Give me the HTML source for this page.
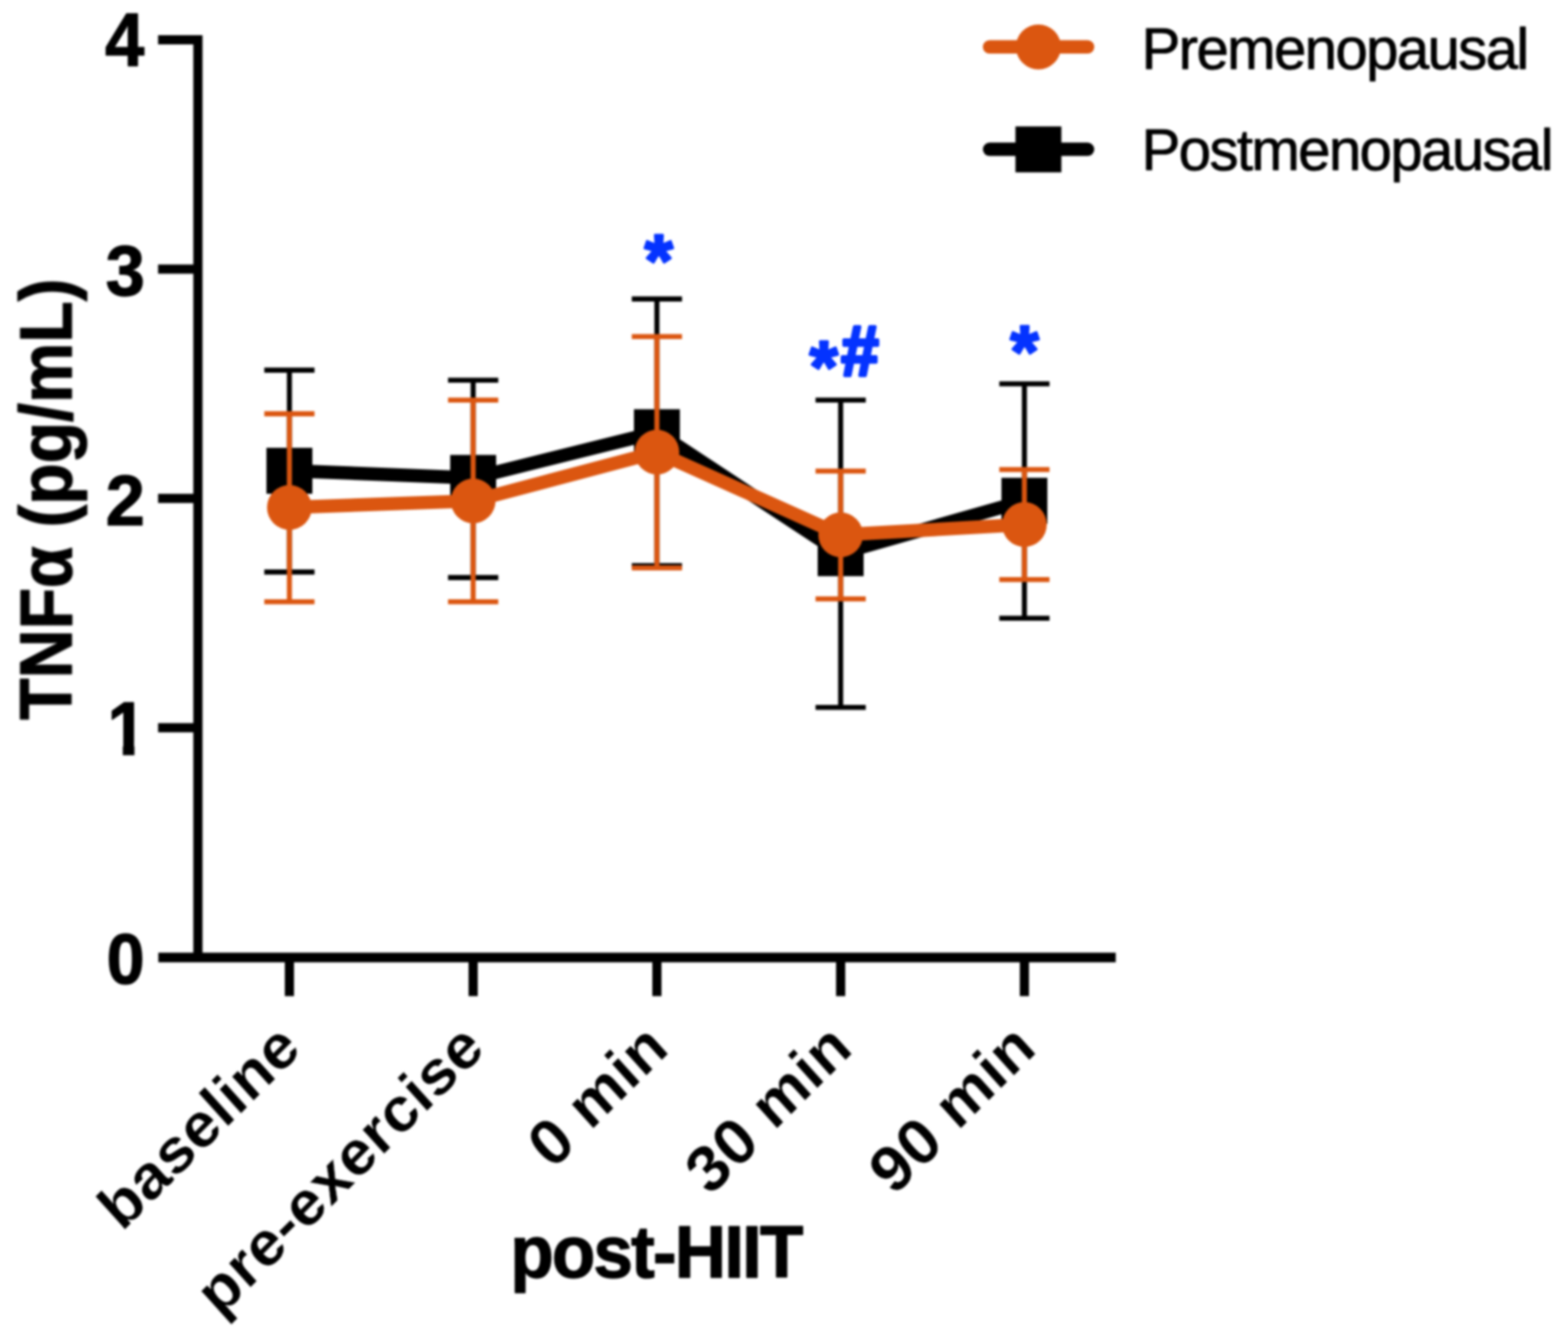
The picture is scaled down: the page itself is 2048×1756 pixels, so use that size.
<!DOCTYPE html>
<html lang="en"><head><meta charset="utf-8"><title>TNFα response to HIIT</title>
<style>html,body{margin:0;padding:0;background:#fff}svg{display:block}text{font-family:"Liberation Sans",Arial,Helvetica,sans-serif}</style></head><body>
<svg width="2048" height="1756" viewBox="0 0 2048 1756">
<rect width="2048" height="1756" fill="#ffffff"/>
<defs><filter id="soft" color-interpolation-filters="sRGB" x="0" y="0" width="2048" height="1756" filterUnits="userSpaceOnUse"><feGaussianBlur stdDeviation="1.6"/></filter></defs>
<g id="chart" filter="url(#soft)">
<g id="axes" fill="#000">
<rect x="252.5" y="46" width="12" height="1211"/>
<rect x="206.8" y="1244.7" width="1250.5" height="12.6"/>
<rect x="206.5" y="46" width="50" height="12"/>
<rect x="206.5" y="345.6" width="50" height="12"/>
<rect x="206.5" y="645.2" width="50" height="12"/>
<rect x="206.5" y="944.8" width="50" height="12"/>
<rect x="372" y="1250" width="12" height="51.5"/>
<rect x="612" y="1250" width="12" height="51.5"/>
<rect x="852" y="1250" width="12" height="51.5"/>
<rect x="1092" y="1250" width="12" height="51.5"/>
<rect x="1332" y="1250" width="12" height="51.5"/>
</g>
<g id="yticks">
<clipPath id="nofoot"><path d="M130 900H180V968H175.6V1000H160.4V968H130Z"/></clipPath>
<text transform="translate(188.5 85.5) scale(0.96 1.02)" font-size="96" font-weight="bold" stroke="#000000" stroke-width="1.5" stroke-linejoin="round" text-anchor="end" letter-spacing="0" fill="#000000">4</text>
<text transform="translate(189.3 385.6) scale(0.96 0.964)" font-size="96" font-weight="bold" stroke="#000000" stroke-width="1.5" stroke-linejoin="round" text-anchor="end" letter-spacing="0" fill="#000000">3</text>
<text transform="translate(189.3 686.0) scale(0.96 0.97)" font-size="96" font-weight="bold" stroke="#000000" stroke-width="1.5" stroke-linejoin="round" text-anchor="end" letter-spacing="0" fill="#000000">2</text>
<g clip-path="url(#nofoot)"><text transform="translate(191.5 986.0) scale(0.96 1.02)" font-size="96" font-weight="bold" stroke="#000000" stroke-width="1.5" stroke-linejoin="round" text-anchor="end" letter-spacing="0" fill="#000000">1</text></g>
<text transform="translate(189.0 1284.8) scale(0.93 0.964)" font-size="96" font-weight="bold" stroke="#000000" stroke-width="1.5" stroke-linejoin="round" text-anchor="end" letter-spacing="0" fill="#000000">0</text>
</g>
<text transform="translate(92.9 940.5) rotate(-90) scale(1.0 1.09)" font-size="88.5" font-weight="bold" stroke="#000000" stroke-width="1.5" stroke-linejoin="round" text-anchor="start" letter-spacing="0.1" fill="#000000">TNFα (pg/mL)</text>
<g id="xticks">
<text transform="translate(396.3 1373.0) rotate(-45) skewX(-3) scale(1.0 0.96)" font-size="83" font-weight="bold" stroke="#fff" stroke-width="0.35" stroke-linejoin="round" text-anchor="end" letter-spacing="0.4" fill="#000000">baseline</text>
<text transform="translate(636.3 1373.0) rotate(-45) skewX(-3) scale(1.0 0.96)" font-size="83" font-weight="bold" stroke="#fff" stroke-width="0.35" stroke-linejoin="round" text-anchor="end" letter-spacing="0.4" fill="#000000">pre-exercise</text>
<text transform="translate(876.3 1373.0) rotate(-45) skewX(-3) scale(1.0 0.96)" font-size="83" font-weight="bold" stroke="#fff" stroke-width="0.35" stroke-linejoin="round" text-anchor="end" letter-spacing="0.4" fill="#000000"><tspan font-size="86" dy="1.5">0</tspan><tspan dy="-1.5"> min</tspan></text>
<text transform="translate(1116.3 1373.0) rotate(-45) skewX(-3) scale(1.0 0.96)" font-size="83" font-weight="bold" stroke="#fff" stroke-width="0.35" stroke-linejoin="round" text-anchor="end" letter-spacing="0.4" fill="#000000"><tspan font-size="86" dy="1.5">30</tspan><tspan dy="-1.5"> min</tspan></text>
<text transform="translate(1356.3 1373.0) rotate(-45) skewX(-3) scale(1.0 0.96)" font-size="83" font-weight="bold" stroke="#fff" stroke-width="0.35" stroke-linejoin="round" text-anchor="end" letter-spacing="0.4" fill="#000000"><tspan font-size="86" dy="1.5">90</tspan><tspan dy="-1.5"> min</tspan></text>
</g>
<text transform="translate(666.5 1669.3) scale(1.0 1.04)" font-size="93" font-weight="bold" stroke="#000000" stroke-width="1.5" stroke-linejoin="round" text-anchor="start" letter-spacing="-2.5" fill="#000000">post-HIIT</text>
<g stroke="#000000" fill="#000000">
<path d="M378 483.6V747.4M345.2 483.6h65.6M345.2 747.4h65.6M618 496.8V754.6M585.2 496.8h65.6M585.2 754.6h65.6M858 390.6V739.0M825.2 390.6h65.6M825.2 739.0h65.6M1098 522.7V924.3M1065.2 522.7h65.6M1065.2 924.3h65.6M1338 501.5V807.7M1305.2 501.5h65.6M1305.2 807.7h65.6" stroke-width="6.6" fill="none"/>
<polyline points="378,615.1 618,624.4 858,564.7 1098,722.8 1338,654.3" fill="none" stroke-width="17.5" stroke-linejoin="miter"/>
<rect x="348" y="585.1" width="60" height="60" stroke="none"/>
<rect x="588" y="594.4" width="60" height="60" stroke="none"/>
<rect x="828" y="534.7" width="60" height="60" stroke="none"/>
<rect x="1068" y="692.8" width="60" height="60" stroke="none"/>
<rect x="1308" y="624.3" width="60" height="60" stroke="none"/>
</g>
<g stroke="#DB5610" fill="#DB5610">
<path d="M378 540.6V786.3M345.2 540.6h65.6M345.2 786.3h65.6M618 522.8V786.3M585.2 522.8h65.6M585.2 786.3h65.6M858 439.8V742.0M825.2 439.8h65.6M825.2 742.0h65.6M1098 615.5V782.5M1065.2 615.5h65.6M1065.2 782.5h65.6M1338 613.5V757.2M1305.2 613.5h65.6M1305.2 757.2h65.6" stroke-width="6.6" fill="none"/>
<polyline points="378,663.0 618,654.4 858,590.7 1098,698.8 1338,685.3" fill="none" stroke-width="17.5" stroke-linejoin="miter"/>
<circle cx="378" cy="663.0" r="29.2" stroke="none"/>
<circle cx="618" cy="654.4" r="29.2" stroke="none"/>
<circle cx="858" cy="590.7" r="29.2" stroke="none"/>
<circle cx="1098" cy="698.8" r="29.2" stroke="none"/>
<circle cx="1338" cy="685.3" r="29.2" stroke="none"/>
</g>
<g id="sig" fill="#0433FF">
<text transform="translate(860.3 372.992)" font-size="96" font-weight="bold" stroke="#0433FF" stroke-width="3" stroke-linejoin="round" text-anchor="middle" letter-spacing="0" fill="#0433FF">*</text>
<text transform="translate(1075.8 511.79200000000003)" font-size="96" font-weight="bold" stroke="#0433FF" stroke-width="3" stroke-linejoin="round" text-anchor="middle" letter-spacing="0" fill="#0433FF">*</text>
<text transform="translate(1123.3 490.0) scale(1.0 1.045)" font-size="88" font-weight="bold" stroke="#0433FF" stroke-width="4.5" stroke-linejoin="round" text-anchor="middle" letter-spacing="0" fill="#0433FF">#</text>
<text transform="translate(1338.2 492.192)" font-size="96" font-weight="bold" stroke="#0433FF" stroke-width="3" stroke-linejoin="round" text-anchor="middle" letter-spacing="0" fill="#0433FF">*</text>
</g>
<g id="legend">
<line x1="1292.5" y1="61.2" x2="1420.5" y2="61.2" stroke="#DB5610" stroke-width="17.5" stroke-linecap="round"/>
<circle cx="1356.3" cy="61.3" r="29.4" fill="#DB5610"/>
<line x1="1292.5" y1="195.1" x2="1420.5" y2="195.1" stroke="#000" stroke-width="17.5" stroke-linecap="round"/>
<rect x="1326.3" y="165.2" width="60" height="60" fill="#000"/>
<text transform="translate(1491 90.3) scale(1.0 0.99)" font-size="76" font-weight="normal" stroke="#000000" stroke-width="1.0" stroke-linejoin="round" text-anchor="start" letter-spacing="-2.15" fill="#000000">Premenopausal</text>
<text transform="translate(1491 222.3) scale(1.0 0.99)" font-size="76" font-weight="normal" stroke="#000000" stroke-width="1.0" stroke-linejoin="round" text-anchor="start" letter-spacing="-2.15" fill="#000000">Postmenopausal</text>
</g>
</g>
</svg>
</body></html>
